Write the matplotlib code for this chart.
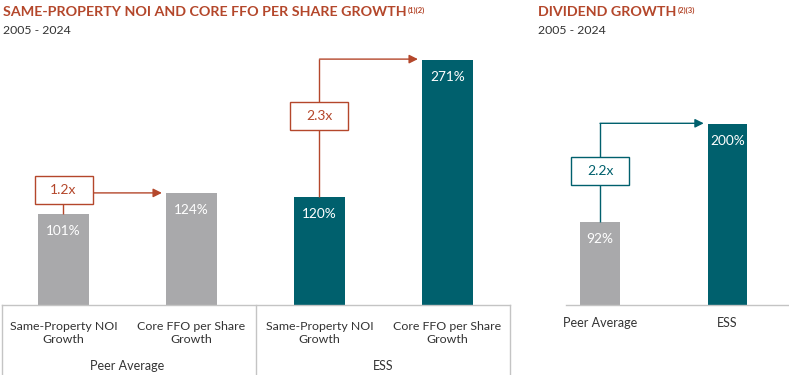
import matplotlib.pyplot as plt
from matplotlib.patches import Rectangle
from matplotlib.lines import Line2D

plt.rcParams['font.family'] = ['Lato', 'DejaVu Sans']

# data
growth_labels = ['Same-Property NOI\nGrowth', 'Core FFO per Share\nGrowth',
                 'Same-Property NOI\nGrowth', 'Core FFO per Share\nGrowth']
growth_groups = ['Peer Average', 'ESS']
growth_values = [101, 124, 120, 271]
growth_multiples = ['1.2x', '2.3x']
dividend_labels = ['Peer Average', 'ESS']
dividend_values = [92, 200]
dividend_multiple = '2.2x'

ORANGE = '#B4472B'
TEAL = '#00606D'
GRAY = '#A9A9AB'
LINE = '#C4C4C4'
TEXT = '#333333'

W, H = 789, 375
fig = plt.figure(figsize=(7.89, 3.75), dpi=100)


def fx(px):
    return px / W


def fy(py):
    return 1 - py / H


base_py = 305
top_py = 40
px_per_pct = 0.904
ymax = (base_py - top_py) / px_per_pct

# left panel: 128 px per category
axL = fig.add_axes([0, fy(base_py), fx(512), (base_py - top_py) / H])
axL.set_xlim(-63.5 / 128, (512 - 63.5) / 128)
axL.set_ylim(0, ymax)
# right panel
axR = fig.add_axes([fx(566), fy(base_py), fx(789 - 566), (base_py - top_py) / H])
axR.set_xlim(-34 / 127.5, 189 / 127.5)
axR.set_ylim(0, ymax)
for ax in (axL, axR):
    ax.axis('off')


def bars(ax, values, colors, width):
    xs = range(len(values))
    ax.bar(xs, values, width=width, color=colors, zorder=2)
    for x, v in zip(xs, values):
        ax.annotate(f'{v}%', xy=(x, v), xytext=(0, -17), textcoords='offset pixels',
                    ha='center', va='center', color='white', fontsize=9.8)


def link(ax, x0, v0, x1, bar_w, arrow_v, box_v, text, color, px_per_x):
    ax.plot([x0, x0], [v0, arrow_v], color=color, lw=1.0, zorder=3,
            solid_capstyle='butt')
    tip = x1 - bar_w / 2 - 4 / px_per_x
    ax.annotate('', xy=(tip, arrow_v), xytext=(x0, arrow_v),
                arrowprops=dict(arrowstyle='-|>', color=color, lw=1.0,
                                mutation_scale=13, shrinkA=0, shrinkB=0),
                zorder=3)
    bw = 58 / px_per_x
    bh = 28 / px_per_pct
    ax.add_patch(Rectangle((x0 - bw / 2, box_v - bh / 2), bw, bh, facecolor='white',
                           edgecolor=color, lw=1.0, zorder=4))
    ax.text(x0, box_v, text, ha='center', va='center', color=color, fontsize=10,
            zorder=5)


# left chart
bars(axL, growth_values, [GRAY, GRAY, TEAL, TEAL], 0.4)
link(axL, 0, growth_values[0], 1, 0.4, growth_values[1], growth_values[1] + 3.5,
     growth_multiples[0], ORANGE, 128)
link(axL, 2, growth_values[2], 3, 0.4, growth_values[3] + 1, 209,
     growth_multiples[1], ORANGE, 128)

for x, lab in enumerate(growth_labels):
    axL.annotate(lab, xy=(x, 0), xytext=(0, -28), textcoords='offset pixels',
                 ha='center', va='center', color=TEXT, fontsize=8.9, linespacing=1.22)
for i, g in enumerate(growth_groups):
    axL.annotate(g, xy=(2 * i + 0.5, 0), xytext=(0, -61), textcoords='offset pixels',
                 ha='center', va='center', color=TEXT, fontsize=9)

# table-like frame under the left chart
for (x0, y0, x1, y1) in [(2, base_py, 510, base_py), (2, base_py, 2, 376),
                         (256, base_py, 256, 376), (510, base_py, 510, 376)]:
    fig.add_artist(Line2D([fx(x0), fx(x1)], [fy(y0), fy(y1)], color=LINE, lw=1.0))

# right chart
bars(axR, dividend_values, [GRAY, TEAL], 0.31)
link(axR, 0, dividend_values[0], 1, 0.31, dividend_values[1] + 1, 148,
     dividend_multiple, TEAL, 127.5)
axR.axhline(0, color=LINE, lw=1.0, clip_on=False)
for x, lab in enumerate(dividend_labels):
    axR.annotate(lab, xy=(x, 0), xytext=(0, -18), textcoords='offset pixels',
                 ha='center', va='center', color=TEXT, fontsize=9)

# titles
t1 = fig.text(fx(3), fy(12), 'SAME-PROPERTY NOI AND CORE FFO PER SHARE GROWTH',
              weight='bold', color=ORANGE, fontsize=10.3, va='center', ha='left')
fig.text(fx(3), fy(30), '2005 - 2024', color=TEXT, fontsize=8.8, va='center', ha='left')
t2 = fig.text(fx(538), fy(12), 'DIVIDEND GROWTH',
              weight='bold', color=ORANGE, fontsize=10.3, va='center', ha='left')
fig.text(fx(538), fy(30), '2005 - 2024', color=TEXT, fontsize=8.8, va='center', ha='left')
for t, sup in [(t1, '(1)(2)'), (t2, '(2)(3)')]:
    plt.annotate(sup, xy=(1, 0.95), xycoords=t, xytext=(1, 0), textcoords='offset pixels',
                 ha='left', va='top', color=ORANGE, fontsize=5.5, weight='bold')

fig.savefig('out.png', dpi=100)
